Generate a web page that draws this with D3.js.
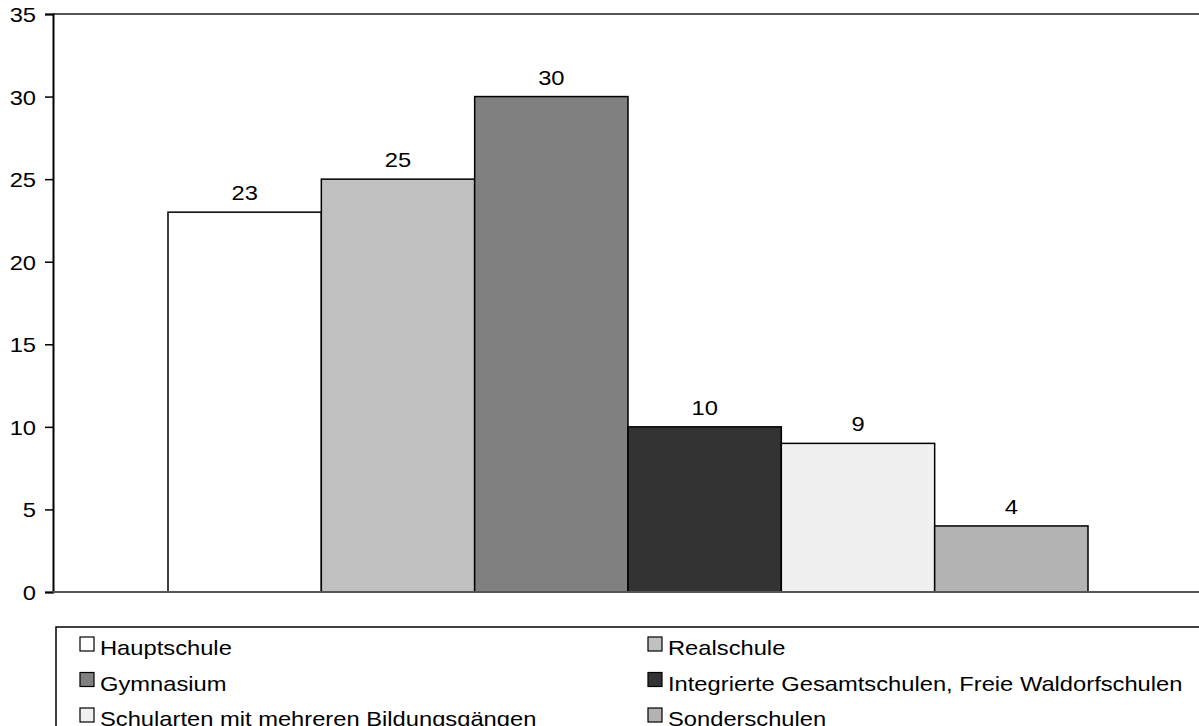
<!DOCTYPE html>
<html><head><meta charset="utf-8">
<script src="https://cdn.jsdelivr.net/npm/d3@7"></script>
<style>
html,body{margin:0;padding:0;background:#fff;overflow:hidden;}
svg{display:block;font-family:"Liberation Sans",Arial,sans-serif;}
</style></head>
<body>
<svg id="chart" width="1199" height="726"></svg>
<script>
const categories = ["Hauptschule","Realschule","Gymnasium","Integrierte Gesamtschulen, Freie Waldorfschulen","Schularten mit mehreren Bildungsgängen","Sonderschulen"];
const values = [23,25,30,10,9,4];
const colors = ["#ffffff","#c0c0c0","#808080","#333333","#f0f0f0","#b3b3b3"];
const yTicks = [0,5,10,15,20,25,30,35];

(function(){
const svg = d3.select("#chart");
const mLeft = 53, mTop = 14, mBottom = 592;
const FS = 21, SX = 1.13;
const x = d3.scaleBand().domain(categories).range([mLeft, 1203]).paddingInner(0).paddingOuter(0.75);
const y = d3.scaleLinear().domain([0,35]).range([mBottom, mTop]);

// top frame line
svg.append("line").attr("x1",mLeft).attr("x2",1199).attr("y1",y(35)).attr("y2",y(35))
  .attr("stroke","#555").attr("stroke-width",2);

// y axis
const yAxis = d3.axisLeft(y).tickValues(yTicks).tickSize(8).tickPadding(8);
const gy = svg.append("g").attr("transform",`translate(${mLeft},0)`).call(yAxis);
gy.select(".domain").attr("stroke","#000").attr("stroke-width",2);
gy.selectAll(".tick line").attr("stroke","#000").attr("stroke-width",1.5);
gy.selectAll(".tick text").attr("font-size",FS).attr("fill","#000")
  .attr("font-family","Liberation Sans, Arial, sans-serif")
  .attr("x",-17/SX).attr("dy","0.36em").attr("transform",`scale(${SX},1)`);

// bars
svg.append("g").selectAll("rect").data(categories).join("rect")
  .attr("x",d=>x(d)).attr("width",x.bandwidth())
  .attr("y",(d,i)=>y(values[i])).attr("height",(d,i)=>y(0)-y(values[i]))
  .attr("fill",(d,i)=>colors[i]).attr("stroke","#000").attr("stroke-width",1.5);

// baseline
svg.append("line").attr("x1",mLeft).attr("x2",1199).attr("y1",y(0)).attr("y2",y(0))
  .attr("stroke","#555").attr("stroke-width",2);

// value labels
svg.append("g").selectAll("text").data(categories).join("text")
  .attr("transform",(d,i)=>`translate(${x(d)+x.bandwidth()/2},${y(values[i])-12}) scale(${SX},1)`)
  .attr("text-anchor","middle").attr("font-size",FS).attr("fill","#000")
  .text((d,i)=>values[i]);

// legend
svg.append("rect").attr("x",56).attr("y",627).attr("width",1160).attr("height",120)
  .attr("fill","#fff").attr("stroke","#000").attr("stroke-width",1.5);
const lg = svg.append("g").selectAll("g").data(categories).join("g")
  .attr("transform",(d,i)=>`translate(${i%2===0?80:648},${648+Math.floor(i/2)*35.5})`);
lg.append("rect").attr("x",0).attr("y",-11).attr("width",14).attr("height",14)
  .attr("fill",(d,i)=>colors[i]).attr("stroke","#000").attr("stroke-width",1.2);
lg.append("text").attr("transform",`translate(20,7) scale(${SX},1)`)
  .attr("font-size",FS).attr("fill","#000").text(d=>d);
})();
</script>
</body></html>
